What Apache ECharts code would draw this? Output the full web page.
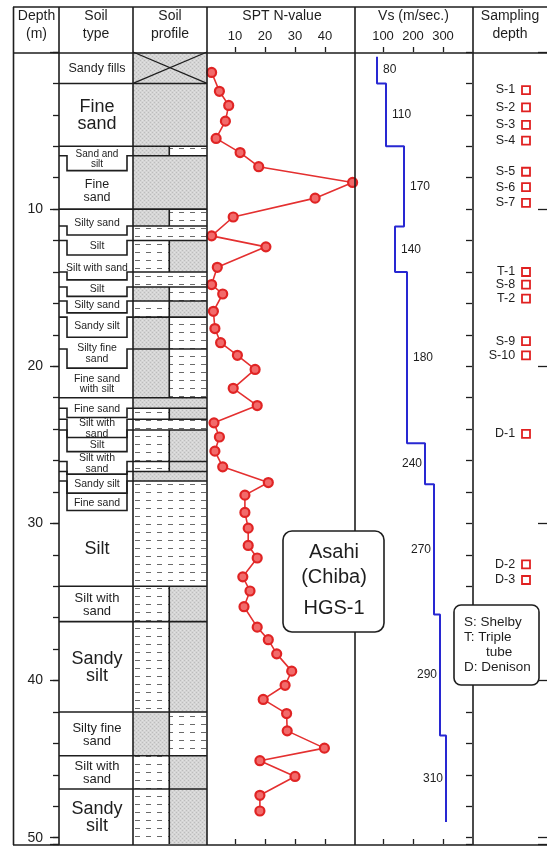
<!DOCTYPE html>
<html>
<head>
<meta charset="utf-8">
<script src="https://cdn.jsdelivr.net/npm/echarts@6/dist/echarts.min.js"></script>
<style>
  html, body { margin: 0; padding: 0; background: #fff; }
  #chart { width: 547px; height: 847px; }
</style>
</head>
<body>
<div id="chart"></div>
<script>
// ---- Boring log data: Asahi (Chiba) HGS-1 ----

// SPT N-values against depth (m)
const sptDepth = [1.3, 2.5, 3.4, 4.4, 5.5, 6.4, 7.3, 8.3, 9.3, 10.5, 11.7, 12.4,
  13.7, 14.8, 15.4, 16.5, 17.6, 18.5, 19.3, 20.2, 21.4, 22.5, 23.6, 24.5, 25.4,
  26.4, 27.4, 28.2, 29.3, 30.3, 31.4, 32.2, 33.4, 34.3, 35.3, 36.6, 37.4, 38.3,
  39.4, 40.3, 41.2, 42.1, 43.2, 44.3, 45.1, 46.1, 47.3, 48.3];
const sptN = [2.2, 4.8, 7.9, 6.8, 3.7, 11.7, 17.9, 49.2, 36.7, 9.4, 2.2, 20.3,
  4.1, 2.2, 5.9, 2.8, 3.3, 5.2, 10.8, 16.7, 9.4, 17.4, 3.0, 4.8, 3.3,
  5.9, 21.1, 13.3, 13.3, 14.4, 14.4, 17.4, 12.6, 15.0, 13.0, 17.4, 21.1, 23.9,
  28.9, 26.7, 19.4, 27.2, 27.4, 39.8, 18.3, 30.0, 18.3, 18.3];

// Shear-wave velocity (m/sec.) and the depth where each step starts
const vsValue = [80, 110, 170, 140, 180, 240, 270, 290, 310];
const vsTop = [0.3, 2.0, 6.0, 11.1, 14.0, 24.9, 27.5, 35.8, 43.5];
const vsEnd = 49.0;

// Sampling depths
const sampleName = ['S-1', 'S-2', 'S-3', 'S-4', 'S-5', 'S-6', 'S-7', 'T-1', 'S-8', 'T-2',
  'S-9', 'S-10', 'D-1', 'D-2', 'D-3'];
const sampleDepth = [2.42, 3.52, 4.64, 5.64, 7.62, 8.6, 9.6, 14.0, 14.8, 15.7,
  18.4, 19.3, 24.3, 32.6, 33.6];

// Soil layers: top depth, and the material of the left / right half of the profile
const layerTop = [0, 2.0, 6.0, 6.6, 10.0, 11.07, 12.0, 14.0, 14.95, 15.85, 16.87, 18.9,
  22.0, 22.67, 23.37, 24.05, 26.06, 26.7, 27.3, 34.0, 36.25, 42.0, 44.78, 46.9];
const layerLeft = ['fill', 'sand', 'sand', 'sand', 'sand', 'silt', 'silt', 'silt', 'sand', 'silt',
  'sand', 'sand', 'sand', 'silt', 'silt', 'silt', 'silt', 'sand', 'silt', 'silt', 'silt', 'sand',
  'silt', 'silt'];
const layerRight = ['fill', 'sand', 'silt', 'sand', 'silt', 'silt', 'sand', 'silt', 'silt', 'sand',
  'silt', 'silt', 'sand', 'sand', 'silt', 'sand', 'sand', 'sand', 'silt', 'sand', 'sand', 'silt',
  'sand', 'sand'];
const soilName = ['Sandy fills', 'Fine\nsand', 'Sand and\nsilt', 'Fine\nsand', 'Silty sand', 'Silt',
  'Silt with sand', 'Silt', 'Silty sand', 'Sandy silt', 'Silty fine\nsand', 'Fine sand\nwith silt',
  'Fine sand', 'Silt with\nsand', 'Silt', 'Silt with\nsand', 'Sandy silt', 'Fine sand', 'Silt',
  'Silt with\nsand', 'Sandy\nsilt', 'Silty fine\nsand', 'Silt with\nsand', 'Sandy\nsilt'];
// Depth of the label boxes' lower edge in the soil-type column (thin layers get taller boxes)
const soilBoxBottom = [2.0, 6.0, 7.55, 10.0, 11.65, 12.92, 14.5, 15.55, 16.6, 18.15, 20.12,
  22.0, 23.26, 24.53, 25.43, 26.86, 28.07, 29.18, 34.0, 36.25, 42.0, 44.78, 46.9];

// Axis ticks
const depthLabels = [10, 20, 30, 40, 50];
const sptTicks = [10, 20, 30, 40];
const vsTicks = [100, 200, 300];

// ---- layout / style ----
const FONT = "'Liberation Sans', Arial, Helvetica, sans-serif";
const INK = '#1e1e1e';
const TOP = 52, PH = 792, DMAX = 50.4;
const soilFont = [12.5, 18, 10, 12.5, 10.5, 10.5, 10.5, 10.5, 10.5, 10.5, 10.5, 10.5,
  10.5, 10.5, 10.5, 10.5, 10.5, 10.5, 18, 13, 18, 13, 13, 18];
const SAMPLE_X = 0.72;

// Fill textures for the soil profile
function sandPattern() {
  const c = document.createElement('canvas');
  c.width = 4; c.height = 4;
  const g = c.getContext('2d');
  g.fillStyle = '#d5d5d5'; g.fillRect(0, 0, 4, 4);
  g.fillStyle = '#bcbcbc'; g.fillRect(0, 0, 1, 1); g.fillRect(2, 2, 1, 1);
  g.fillStyle = '#e2e2e2'; g.fillRect(2, 0, 1, 1); g.fillRect(0, 2, 1, 1);
  return { image: c, repeat: 'repeat' };
}
function siltPattern() {
  const c = document.createElement('canvas');
  c.width = 11; c.height = 8;
  const g = c.getContext('2d');
  g.fillStyle = '#ffffff'; g.fillRect(0, 0, 11, 8);
  g.fillStyle = '#6a6a6a'; g.fillRect(3, 4, 5, 1);
  return { image: c, repeat: 'repeat' };
}
const PAT = { sand: sandPattern(), silt: siltPattern(), fill: sandPattern() };

const chart = echarts.init(document.getElementById('chart'), null, { renderer: 'canvas' });

function grid(left, width) { return { left: left, top: TOP, width: width, height: PH, containLabel: false }; }
function hiddenX(gridIndex) {
  return { type: 'value', gridIndex: gridIndex, min: 0, max: 1, show: false };
}
function depthAxis(gridIndex, extra) {
  return Object.assign({
    type: 'value', gridIndex: gridIndex, inverse: true, min: 0, max: DMAX,
    axisLine: { show: false }, axisTick: { show: false }, axisLabel: { show: false },
    splitLine: { show: false }
  }, extra || {});
}
function scaleAxis(gridIndex, max, ticks, top) {
  return {
    type: 'value', gridIndex: gridIndex, min: 0, max: max, position: top ? 'top' : 'bottom',
    axisLine: { show: false }, splitLine: { show: false },
    axisTick: { show: true, inside: !top, length: 5, customValues: ticks, lineStyle: { color: INK, width: 1.3 } },
    axisLabel: top ? { show: true, customValues: ticks, fontSize: 13, color: INK, fontFamily: FONT, margin: 9 }
                   : { show: false }
  };
}

// Step line for Vs
const vsPath = [];
const vsLabelData = [];
vsValue.forEach(function (v, i) {
  const top = vsTop[i];
  const bot = i < vsValue.length - 1 ? vsTop[i + 1] : vsEnd;
  vsPath.push([v, top], [v, bot]);
  vsLabelData.push([v, (top + bot) / 2, i]);
});

function textStyle(text, size, lineH, align) {
  return {
    text: text, fontSize: size, fontFamily: FONT, fill: INK, lineHeight: lineH,
    align: align || 'center', verticalAlign: 'middle',
    textAlign: align || 'center', textVerticalAlign: 'middle'
  };
}

// Header + frame
const frameX = [13.5, 59, 133, 207, 355, 473];
const graphics = [];
frameX.forEach(function (x) {
  graphics.push({ type: 'line', z: 50, shape: { x1: x, y1: 7, x2: x, y2: 845 }, style: { stroke: INK, lineWidth: 1.6 } });
});
[7, 53, 845].forEach(function (y) {
  graphics.push({ type: 'line', z: 50, shape: { x1: 13, y1: y, x2: 547, y2: y }, style: { stroke: INK, lineWidth: 1.6 } });
});
const headers = [
  ['Depth', 36.5, 16], ['(m)', 36.5, 34], ['Soil', 96, 16], ['type', 96, 34],
  ['Soil', 170, 16], ['profile', 170, 34], ['SPT N-value', 282, 16], ['Vs (m/sec.)', 413.5, 16],
  ['Sampling', 510, 16], ['depth', 510, 34]
];
headers.forEach(function (h) {
  graphics.push({ type: 'text', z: 50, x: h[1], y: h[2], style: textStyle(h[0], 14, 16) });
});
// Site box
graphics.push({ type: 'rect', z: 60, shape: { x: 283, y: 531, width: 101, height: 101, r: 9 },
  style: { fill: '#fff', stroke: INK, lineWidth: 1.6 } });
[['Asahi', 552], ['(Chiba)', 577], ['HGS-1', 608]].forEach(function (t) {
  graphics.push({ type: 'text', z: 61, x: 334, y: t[1], style: textStyle(t[0], 20, 22) });
});
// Sampler key
graphics.push({ type: 'rect', z: 60, shape: { x: 454, y: 605, width: 85, height: 80, r: 7 },
  style: { fill: '#fff', stroke: INK, lineWidth: 1.6 } });
[['S: Shelby', 464, 622.5], ['T: Triple', 464, 637.5], ['tube', 486, 652], ['D: Denison', 464, 667.5]].forEach(function (t) {
  graphics.push({ type: 'text', z: 61, x: t[1], y: t[2], style: textStyle(t[0], 13.5, 15, 'left') });
});

const option = {
  animation: false,
  backgroundColor: '#ffffff',
  grid: [grid(59, 74), grid(133, 74), grid(205, 150), grid(353, 120), grid(472, 76)],
  xAxis: [
    hiddenX(0), hiddenX(1),
    scaleAxis(2, 50, sptTicks, true), scaleAxis(2, 50, sptTicks, false),
    scaleAxis(3, 400, vsTicks, true), scaleAxis(3, 400, vsTicks, false),
    hiddenX(4)
  ],
  yAxis: [
    depthAxis(0, {
      position: 'left', interval: 2,
      axisTick: { show: true, length: 6, lineStyle: { color: INK, width: 1.3 } },
      axisLabel: { show: true, customValues: depthLabels, fontSize: 14, color: INK, fontFamily: FONT, margin: 16 }
    }),
    depthAxis(0, { position: 'left', interval: 10, axisTick: { show: true, length: 9, lineStyle: { color: INK, width: 1.3 } } }),
    depthAxis(1), depthAxis(2), depthAxis(3),
    depthAxis(4, { position: 'right', interval: 2, axisTick: { show: true, inside: true, length: 6, lineStyle: { color: INK, width: 1.3 } } }),
    depthAxis(4, { position: 'right', interval: 10, axisTick: { show: true, inside: true, length: 9, lineStyle: { color: INK, width: 1.3 } } })
  ],
  graphic: { elements: graphics },
  series: [
    // soil profile column
    {
      type: 'custom', xAxisIndex: 1, yAxisIndex: 2, z: 1,
      data: layerTop.map(function (t, i) { return [i, t]; }),
      renderItem: function (params, api) {
        const i = api.value(0);
        const cs = params.coordSys;
        const top = layerTop[i];
        const bot = i < layerTop.length - 1 ? layerTop[i + 1] : DMAX;
        const y0 = api.coord([0, top])[1];
        const y1 = api.coord([0, bot])[1];
        const x0 = cs.x, x1 = cs.x + cs.width, xm = cs.x + cs.width * 0.49;
        const kids = [];
        const L = layerLeft[i], R = layerRight[i];
        if (L === R) {
          kids.push({ type: 'rect', shape: { x: x0, y: y0, width: x1 - x0, height: y1 - y0 }, style: { fill: PAT[L] } });
        } else {
          kids.push({ type: 'rect', shape: { x: x0, y: y0, width: xm - x0, height: y1 - y0 }, style: { fill: PAT[L] } });
          kids.push({ type: 'rect', shape: { x: xm, y: y0, width: x1 - xm, height: y1 - y0 }, style: { fill: PAT[R] } });
          kids.push({ type: 'line', shape: { x1: xm, y1: y0, x2: xm, y2: y1 }, style: { stroke: INK, lineWidth: 1.6 } });
        }
        if (L === 'fill') {
          kids.push({ type: 'line', shape: { x1: x0, y1: y0, x2: x1, y2: y1 }, style: { stroke: INK, lineWidth: 1.3 } });
          kids.push({ type: 'line', shape: { x1: x1, y1: y0, x2: x0, y2: y1 }, style: { stroke: INK, lineWidth: 1.3 } });
        }
        if (i > 0) {
          kids.push({ type: 'line', shape: { x1: x0, y1: y0, x2: x1, y2: y0 }, style: { stroke: INK, lineWidth: 1.6 } });
        }
        return { type: 'group', children: kids };
      }
    },
    // soil type boundaries (with label boxes for thin layers)
    {
      type: 'custom', xAxisIndex: 0, yAxisIndex: 0, z: 3,
      data: layerTop.slice(1).map(function (d, i) { return [i, d, soilBoxBottom[i]]; }),
      renderItem: function (params, api) {
        const cs = params.coordSys;
        const yD = api.coord([0, api.value(1)])[1];
        const yL = api.coord([0, api.value(2)])[1];
        const xa = cs.x, xb = cs.x + 8, xc = cs.x + 68, xd = cs.x + cs.width;
        return {
          type: 'polyline',
          shape: { points: [[xa, yD], [xb, yD], [xb, yL], [xc, yL], [xc, yD], [xd, yD]] },
          style: { stroke: INK, lineWidth: 1.6, fill: null }
        };
      }
    },
    // soil type names
    {
      type: 'custom', xAxisIndex: 0, yAxisIndex: 0, z: 4,
      data: soilName.map(function (n, i) { return [i, i]; }),
      renderItem: function (params, api) {
        const i = api.value(0);
        const cs = params.coordSys;
        const a = i === 0 ? 0 : soilBoxBottom[i - 1];
        const b = i < soilBoxBottom.length ? soilBoxBottom[i] : DMAX;
        const y = api.coord([0, (a + b) / 2])[1] + 1;
        const fs = soilFont[i];
        return {
          type: 'text', x: cs.x + 38, y: y,
          style: textStyle(soilName[i], fs, fs > 14 ? fs - 1 : fs)
        };
      }
    },
    // SPT N-value
    {
      type: 'line', xAxisIndex: 2, yAxisIndex: 3, z: 5,
      data: sptN.map(function (n, i) { return [n, sptDepth[i]]; }),
      symbol: 'circle', symbolSize: 9, showSymbol: true,
      lineStyle: { color: '#e43030', width: 1.6 },
      itemStyle: { color: '#f26a6a', borderColor: '#e02424', borderWidth: 2.2 }
    },
    // Vs profile
    {
      type: 'line', xAxisIndex: 4, yAxisIndex: 4, z: 5,
      data: vsPath, symbol: 'none',
      lineStyle: { color: '#2828d2', width: 2 }
    },
    // Vs values
    {
      type: 'custom', xAxisIndex: 4, yAxisIndex: 4, z: 6,
      data: vsLabelData,
      renderItem: function (params, api) {
        const p = api.coord([api.value(0), api.value(1)]);
        const right = api.value(2) < 5;
        return {
          type: 'text', x: p[0] + (right ? 6 : -3), y: p[1],
          style: textStyle(String(api.value(0)), 12, 14, right ? 'left' : 'right')
        };
      }
    },
    // sampling depths
    {
      type: 'scatter', xAxisIndex: 6, yAxisIndex: 5, z: 5,
      data: sampleDepth.map(function (d, i) { return { name: sampleName[i], value: [SAMPLE_X, d] }; }),
      symbol: 'rect', symbolSize: 8,
      itemStyle: { color: '#ffffff', borderColor: '#e02020', borderWidth: 1.8, opacity: 1 },
      label: { show: true, position: 'left', distance: 6, formatter: '{b}', fontSize: 12.5, color: INK, fontFamily: FONT }
    }
  ]
};
chart.setOption(option);
</script>
</body>
</html>
